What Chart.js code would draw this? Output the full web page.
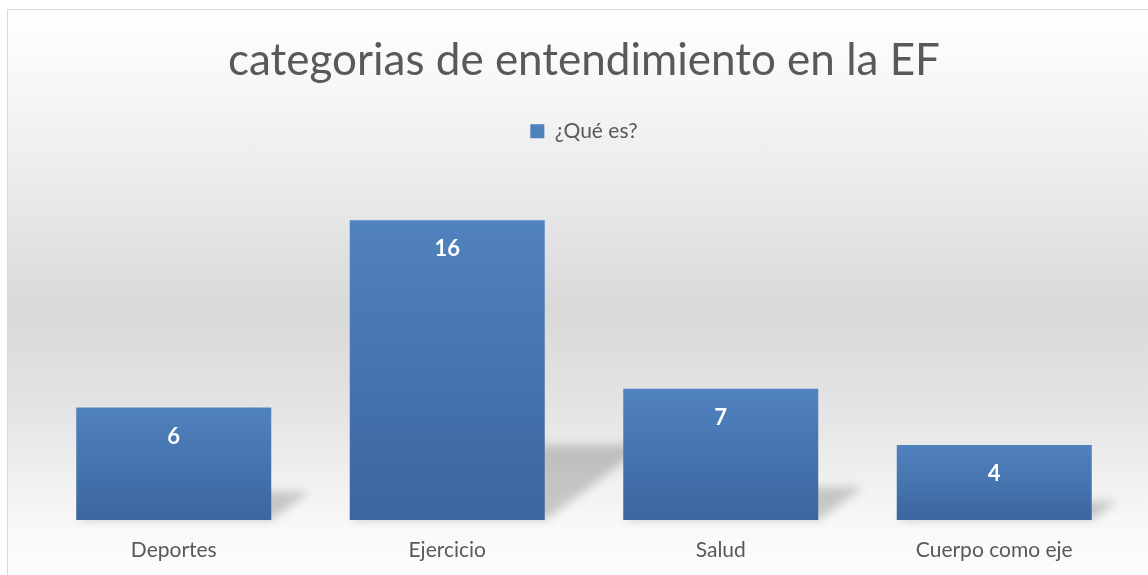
<!DOCTYPE html>
<html>
<head>
<meta charset="utf-8">
<script src="https://cdn.jsdelivr.net/npm/chart.js@4.4.1/dist/chart.umd.min.js"></script>
<style>
  html, body { margin: 0; padding: 0; background: #fff; overflow: hidden; }
  #frame {
    position: absolute; left: 7px; top: 9px; width: 1200px; height: 600px;
    border: 1px solid #d9d9d9;
    background: linear-gradient(to bottom, #ffffff 0px, #f3f3f3 110px, #d9d9d9 300px, #e4e4e4 400px, #f8f8f8 515px, #fdfdfd 566px);
  }
  #wrap { position: absolute; left: 0; top: 0; width: 1166px; height: 575px; }
</style>
</head>
<body>
<div id="frame"></div>
<div id="wrap"><canvas id="chart" width="1166" height="575"></canvas></div>
<script>
const chartTitle = 'categorias de entendimiento en la EF';
const seriesName = '¿Qué es?';
const categories = ['Deportes', 'Ejercicio', 'Salud', 'Cuerpo como eje'];
const values = [6, 16, 7, 4];

const FONT = 'Lato, "Open Sans", sans-serif';
const TEXT = '#595959';

// perspective shadow lying behind each bar
const barShadow = {
  id: 'barShadow',
  beforeDatasetsDraw(chart) {
    const ctx = chart.ctx;
    const meta = chart.getDatasetMeta(0);
    ctx.save();
    ctx.filter = 'blur(5px)';
    ctx.fillStyle = 'rgba(0,0,0,0.19)';
    meta.data.forEach(bar => {
      const l = bar.x - bar.width / 2, r = bar.x + bar.width / 2;
      const b = bar.base, h = bar.base - bar.y;
      const s = h * 0.34, up = h * 0.25;
      ctx.beginPath();
      ctx.moveTo(l, b);
      ctx.lineTo(r, b);
      ctx.lineTo(r + s, b - up);
      ctx.lineTo(l + s, b - up);
      ctx.closePath();
      ctx.fill();
    });
    ctx.restore();
  }
};

const valueLabels = {
  id: 'valueLabels',
  afterDatasetsDraw(chart) {
    const ctx = chart.ctx;
    const meta = chart.getDatasetMeta(0);
    ctx.save();
    ctx.font = 'bold 22px ' + FONT;
    ctx.fillStyle = '#ffffff';
    ctx.textAlign = 'center';
    ctx.textBaseline = 'middle';
    meta.data.forEach((bar, i) => {
      ctx.fillText(String(values[i]), bar.x, bar.y + 29);
    });
    ctx.restore();
  }
};

// extra room under the legend
const legendGap = {
  id: 'legendGap',
  beforeInit(chart) {
    const fit = chart.legend.fit;
    chart.legend.fit = function () {
      fit.bind(chart.legend)();
      this.height += 31;
    };
  }
};

function barGradient(c) {
  const chart = c.chart;
  if (!chart.chartArea || c.raw === undefined) return '#4a7ab5';
  const y = chart.scales.y;
  const g = chart.ctx.createLinearGradient(0, y.getPixelForValue(c.raw), 0, y.getPixelForValue(0));
  g.addColorStop(0, '#5082be');
  g.addColorStop(1, '#3b669f');
  return g;
}

new Chart(document.getElementById('chart'), {
  type: 'bar',
  data: {
    labels: categories,
    datasets: [{
      label: seriesName,
      data: values,
      backgroundColor: barGradient,
      borderWidth: 0,
      barPercentage: 0.713,
      categoryPercentage: 1.0
    }]
  },
  options: {
    responsive: false,
    animation: false,
    layout: { padding: { left: 37, right: 35, top: 34, bottom: 0 } },
    scales: {
      x: {
        grid: { display: false, drawTicks: false },
        border: { display: false },
        ticks: { color: TEXT, padding: 18, font: { family: FONT, size: 21 } },
        afterFit(scale) { scale.height = 55; }
      },
      y: { display: false, min: 0, max: 18 }
    },
    plugins: {
      title: {
        display: true,
        text: chartTitle,
        color: TEXT,
        padding: { top: 0, bottom: 24 },
        font: { family: FONT, size: 44, weight: 'normal', lineHeight: 1.2 }
      },
      legend: {
        labels: {
          color: TEXT,
          boxWidth: 14,
          boxHeight: 14,
          padding: 10,
          font: { family: FONT, size: 21 },
          generateLabels(ch) {
            return [{ text: seriesName, fillStyle: '#4f81bd', strokeStyle: '#4f81bd', lineWidth: 0, datasetIndex: 0, fontColor: TEXT }];
          }
        }
      },
      tooltip: { enabled: false }
    }
  },
  plugins: [barShadow, valueLabels, legendGap]
});
</script>
</body>
</html>
